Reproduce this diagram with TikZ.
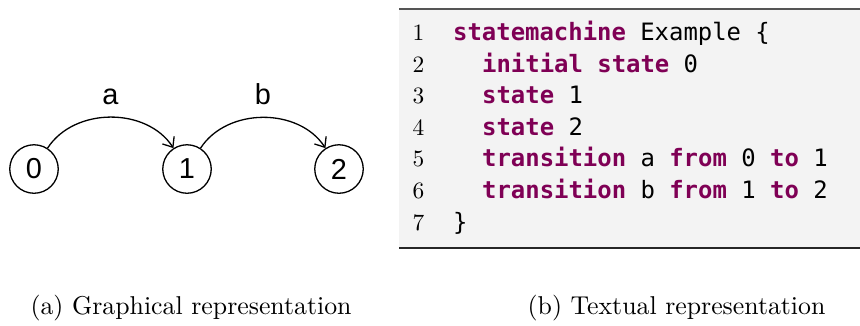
\documentclass[tikz,border=0pt]{standalone}
\usepackage{fontspec}
\usetikzlibrary{arrows.meta}
\newfontfamily\arialf{Liberation Sans}
\newfontfamily\codef{DejaVu Sans Mono}
\newfontfamily\lmten{lmroman10-regular.otf}
\definecolor{kwc}{HTML}{7F0055}
\definecolor{codebg}{HTML}{F3F3F3}
\definecolor{toprule}{HTML}{555555}
\newcommand\kwd[1]{{\bfseries\color{kwc}#1}}
\tikzset{
  stnode/.style={circle,draw,line width=1.3bp,minimum size=48.5bp,inner sep=0pt,
    font=\arialf\fontsize{29}{29}\selectfont},
  edge/.style={line width=1.3bp,-{Straight Barb[length=8.5bp,width=14bp,line width=1.3bp]}},
  lbl/.style={inner sep=0pt,font=\arialf\fontsize{29}{29}\selectfont},
  codeline/.style={anchor=base west,inner sep=0pt,font=\codef\fontsize{24}{24}\selectfont},
  lineno/.style={anchor=base,inner sep=0pt,font=\lmten\fontsize{23.5}{23.5}\selectfont},
  caption/.style={anchor=base,inner sep=0pt,font=\lmten\fontsize{25.9}{30}\selectfont}
}
\begin{document}
\begin{tikzpicture}[x=1bp,y=1bp]
\useasboundingbox (0,0) rectangle (860,-325);
% code box
\fill[codebg] (399,-9) rectangle (860,-248);
\draw[toprule,line width=2bp] (399,-9) -- (860,-9);
\draw[black!85,line width=1.6bp] (399,-248) -- (860,-248);
% states
\node[stnode] (n0) at (34,-169) {0};
\node[stnode] (n1) at (187,-169) {1};
\node[stnode] (n2) at (339,-169) {2};
\draw[edge] (n0) to[out=57,in=123] node[lbl,above=12bp] (la) {a} (n1);
\draw[edge] (n1) to[out=57,in=123] node[lbl,above=12bp] (lb) {b} (n2);
% line numbers
\node[lineno] (l1) at (418.5,-40.5) {1};
\node[lineno] (l2) at (418.5,-72.1) {2};
\node[lineno] (l3) at (418.5,-103.7) {3};
\node[lineno] (l4) at (418.5,-135.3) {4};
\node[lineno] (l5) at (418.5,-166.9) {5};
\node[lineno] (l6) at (418.5,-198.5) {6};
\node[lineno] (l7) at (418.5,-230.1) {7};
% code
\node[codeline] (c1) at (453,-40.5) {\kwd{statemachine} Example \{};
\node[codeline] (c2) at (482,-72.1) {\kwd{initial state} 0};
\node[codeline] (c3) at (482,-103.7) {\kwd{state} 1};
\node[codeline] (c4) at (482,-135.3) {\kwd{state} 2};
\node[codeline] (c5) at (482,-166.9) {\kwd{transition} a \kwd{from} 0 \kwd{to} 1};
\node[codeline] (c6) at (482,-198.5) {\kwd{transition} b \kwd{from} 1 \kwd{to} 2};
\node[codeline] (c7) at (453,-230.1) {\}};
% captions
\node[caption] (capa) at (191,-314) {(a) Graphical representation};
\node[caption] (capb) at (676.5,-314) {(b) Textual representation};
\end{tikzpicture}
\end{document}
